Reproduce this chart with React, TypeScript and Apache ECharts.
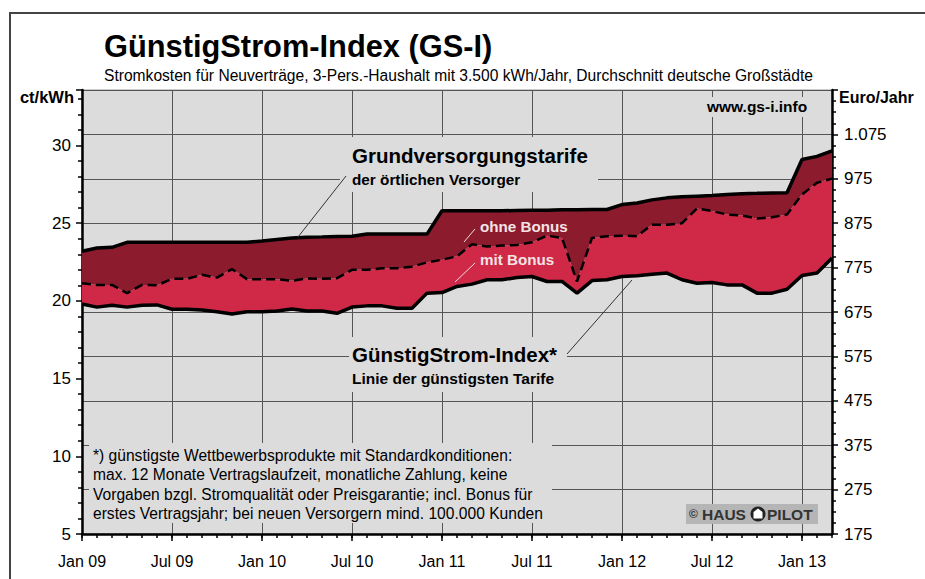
import React, { useEffect, useRef } from 'react';
import * as echarts from 'echarts';

// Month index 0 = Jan 09 ... 50 = Mar 13
const xTickLabels = ['Jan 09', 'Jul 09', 'Jan 10', 'Jul 10', 'Jan 11', 'Jul 11', 'Jan 12', 'Jul 12', 'Jan 13'];
const leftTickLabels = ['5', '10', '15', '20', '25', '30'];
const rightTickLabels = ['175', '275', '375', '475', '575', '675', '775', '875', '975', '1.075'];

// ct/kWh, Grundversorgungstarife (top line)
const grundversorgung = [
  23.2, 23.4, 23.45, 23.77, 23.77, 23.77, 23.77, 23.77, 23.77, 23.77, 23.77, 23.77,
  23.85, 23.95, 24.05, 24.1, 24.12, 24.15, 24.16, 24.3, 24.3, 24.3, 24.3, 24.3,
  25.8, 25.8, 25.8, 25.8, 25.8, 25.82, 25.84, 25.84, 25.86, 25.86, 25.88, 25.88,
  26.2, 26.3, 26.5, 26.63, 26.7, 26.74, 26.78, 26.85, 26.9, 26.92, 26.95, 26.96,
  29.1, 29.3, 29.65,
];
// ct/kWh, günstigste Tarife ohne Bonus (dashed)
const ohneBonus = [
  21.14, 21.03, 21.03, 20.5, 21.03, 21.0, 21.42, 21.42, 21.68, 21.5, 22.05, 21.4,
  21.4, 21.4, 21.3, 21.44, 21.42, 21.46, 22.0, 22.0, 22.1, 22.1, 22.2, 22.48,
  22.65, 22.87, 23.65, 23.5, 23.56, 23.6, 23.77, 24.2, 24.05, 21.25, 24.05, 24.16,
  24.2, 24.16, 24.9, 24.9, 25.0, 25.95, 25.78, 25.56, 25.5, 25.3, 25.38, 25.56,
  26.85, 27.6, 27.87,
];
// ct/kWh, GünstigStrom-Index mit Bonus (bottom line)
const gsIndex = [
  19.8, 19.6, 19.72, 19.6, 19.72, 19.74, 19.46, 19.46, 19.42, 19.3, 19.16, 19.3,
  19.3, 19.35, 19.48, 19.35, 19.35, 19.2, 19.6, 19.68, 19.68, 19.53, 19.53, 20.5,
  20.54, 20.93, 21.08, 21.36, 21.36, 21.5, 21.57, 21.25, 21.25, 20.5, 21.31, 21.36,
  21.57, 21.62, 21.72, 21.79, 21.36, 21.14, 21.18, 21.03, 21.03, 20.5, 20.5, 20.75,
  21.64, 21.79, 22.76,
];

const FONT = "'Liberation Sans', Arial, Helvetica, sans-serif";
const DARK_RED = '#8c1b2e';
const RED = '#cf2947';
const PLOT_BG = '#dcdcdc';

function txt(text: string, x: number, y: number, size: number, opts: any = {}) {
  return {
    type: 'text',
    x,
    y,
    silent: true,
    z: 20,
    style: {
      text,
      font: `${opts.bold ? 'bold ' : ''}${size}px ${FONT}`,
      fill: opts.fill || '#000',
      align: opts.align || 'left',
      verticalAlign: 'middle',
      textAlign: opts.align || 'left',
      textVerticalAlign: 'middle',
    },
  };
}

function box(x: number, y: number, w: number, h: number, fill: string) {
  return { type: 'rect', silent: true, z: 10, shape: { x, y, width: w, height: h }, style: { fill } };
}

function seg(x1: number, y1: number, x2: number, y2: number, stroke: string, w = 1) {
  return { type: 'line', silent: true, z: 15, shape: { x1, y1, x2, y2 }, style: { stroke, lineWidth: w } };
}

export default function App() {
  const ref = useRef<HTMLDivElement>(null);
  useEffect(() => {
    const chart = echarts.init(ref.current!, null, { renderer: 'svg' });
    const months = grundversorgung.map((_, i) => String(i));
    const mid = ohneBonus.map((v, i) => +(v - gsIndex[i]).toFixed(3));
    const upper = grundversorgung.map((v, i) => +(v - ohneBonus[i]).toFixed(3));

    const option: any = {
      animation: false,
      backgroundColor: '#fff',
      textStyle: { fontFamily: FONT },
      grid: {
        left: 82, right: 93, top: 90, bottom: 45,
        show: true, backgroundColor: PLOT_BG, borderColor: '#999', borderWidth: 1,
      },
      xAxis: [
        {
          type: 'category', data: months, boundaryGap: false, position: 'bottom',
          axisLine: { show: false },
          axisTick: { show: true, interval: 0, length: 4, lineStyle: { color: '#000', width: 1.5 } },
          axisLabel: { show: false },
          splitLine: { show: false },
        },
        {
          type: 'value', min: 0, max: 50, interval: 6, position: 'bottom',
          axisLine: { show: true, onZero: false, lineStyle: { color: '#000', width: 2.5 } },
          axisTick: { show: true, length: 7, lineStyle: { color: '#000', width: 1.5 } },
          splitLine: { show: true, lineStyle: { color: '#555', width: 1 } },
          axisLabel: {
            margin: 19, fontSize: 16, color: '#000', fontFamily: FONT,
            showMaxLabel: false,
            formatter: (v: number) => (v % 6 === 0 ? xTickLabels[v / 6] || '' : ''),
          },
        },
      ],
      yAxis: [
        {
          type: 'value', min: 5, max: 1175 / 35, interval: 5, position: 'left',
          axisLine: { show: true, onZero: false, lineStyle: { color: '#000', width: 2.5 } },
          axisTick: { show: true, length: 6, lineStyle: { color: '#000', width: 1.5 } },
          minorTick: { show: true, splitNumber: 5, length: 4, lineStyle: { color: '#000', width: 1.5 } },
          splitLine: { show: false },
          axisLabel: {
            margin: 11, fontSize: 17, color: '#000', fontFamily: FONT,
            formatter: (v: number) => {
              const k = Math.round((v - 5) / 5);
              return Math.abs(v - (5 + 5 * k)) < 1e-6 ? leftTickLabels[k] || '' : '';
            },
          },
        },
        {
          type: 'value', min: 0, max: 1000, interval: 100, position: 'right',
          axisLine: { show: true, onZero: false, lineStyle: { color: '#000', width: 2.5 } },
          axisTick: { show: true, length: 6, lineStyle: { color: '#000', width: 1.5 } },
          minorTick: { show: true, splitNumber: 4, length: 4, lineStyle: { color: '#000', width: 1.5 } },
          splitLine: { show: true, lineStyle: { color: '#555', width: 1 } },
          axisLabel: {
            margin: 12, fontSize: 17, color: '#000', fontFamily: FONT,
            formatter: (v: number) => rightTickLabels[Math.round(v / 100)] || '',
          },
        },
      ],
      series: [
        {
          name: 'base', type: 'line', stack: 'gs', data: gsIndex, symbol: 'none',
          lineStyle: { width: 0, opacity: 0 }, silent: true, z: 2,
        },
        {
          name: 'mit Bonus', type: 'line', stack: 'gs', data: mid, symbol: 'none',
          lineStyle: { width: 0, opacity: 0 }, areaStyle: { color: RED, opacity: 1 }, silent: true, z: 2,
        },
        {
          name: 'ohne Bonus area', type: 'line', stack: 'gs', data: upper, symbol: 'none',
          lineStyle: { width: 0, opacity: 0 }, areaStyle: { color: DARK_RED, opacity: 1 }, silent: true, z: 2,
        },
        {
          name: 'Grundversorgungstarife', type: 'line', data: grundversorgung,
          symbol: 'none', lineStyle: { color: '#000', width: 3.5 }, z: 4,
        },
        {
          name: 'ohne Bonus', type: 'line', data: ohneBonus,
          symbol: 'none', lineStyle: { color: '#000', width: 2.5, type: [9, 5] }, z: 4,
        },
        {
          name: 'GünstigStrom-Index', type: 'line', data: gsIndex,
          symbol: 'none', lineStyle: { color: '#000', width: 3.5 }, z: 4,
        },
      ],
      graphic: [
        { type: 'rect', silent: true, z: 0, shape: { x: 10, y: 13, width: 1000, height: 700 }, style: { fill: 'none', stroke: '#444', lineWidth: 2 } },
        txt('GünstigStrom-Index (GS-I)', 104, 46, 30.8, { bold: true }),
        txt('Stromkosten für Neuverträge, 3-Pers.-Haushalt mit 3.500 kWh/Jahr, Durchschnitt deutsche Großstädte', 104, 75, 15.6),
        txt('ct/kWh', 74, 97, 16.5, { bold: true, align: 'right' }),
        txt('Euro/Jahr', 839, 97, 16, { bold: true }),
        box(704, 97, 108, 20, PLOT_BG),
        txt('www.gs-i.info', 707, 106, 15.5, { bold: true }),
        box(340, 137, 258, 55, PLOT_BG),
        seg(298, 237, 346, 176, '#333', 1),
        txt('Grundversorgungstarife', 352, 155, 20.5, { bold: true }),
        txt('der örtlichen Versorger', 352, 179, 15.3, { bold: true }),
        seg(464, 242, 475, 229, '#f0dde0', 1),
        txt('ohne Bonus', 480, 226, 15.2, { bold: true, fill: '#f3e3e6' }),
        seg(455, 282, 475, 263, '#f0dde0', 1),
        txt('mit Bonus', 480, 259, 15.2, { bold: true, fill: '#f3e3e6' }),
        box(349, 337, 218, 55, PLOT_BG),
        seg(567, 354, 632, 280, '#333', 1),
        txt('GünstigStrom-Index*', 352, 354, 20.5, { bold: true }),
        txt('Linie der günstigsten Tarife', 352, 378, 15.5, { bold: true }),
        box(89, 443, 463, 80, PLOT_BG),
        txt('*) günstigste Wettbewerbsprodukte mit Standardkonditionen:', 93, 455, 15.6),
        txt('max. 12 Monate Vertragslaufzeit, monatliche Zahlung, keine', 93, 474.5, 15.6),
        txt('Vorgaben bzgl. Stromqualität oder Preisgarantie; incl. Bonus für', 93, 494, 15.6),
        txt('erstes Vertragsjahr; bei neuen Versorgern mind. 100.000 Kunden', 93, 513.5, 15.6),
        box(686, 504, 132, 20, '#b5b5b5'),
        txt('©', 689, 514, 12, { bold: true, fill: '#333' }),
        txt('HAUS', 702, 514.5, 15.5, { bold: true, fill: '#333' }),
        { type: 'circle', silent: true, z: 20, shape: { cx: 758, cy: 514, r: 7.5 }, style: { fill: '#222' } },
        { type: 'polygon', silent: true, z: 21, shape: { points: [[758, 508.5], [762.5, 512], [762.5, 518.5], [753.5, 518.5], [753.5, 512]] }, style: { fill: '#fff' } },
        txt('PILOT', 767, 514.5, 15.5, { bold: true, fill: '#333' }),
      ],
    };
    chart.setOption(option);
    return () => chart.dispose();
  }, []);
  return <div ref={ref} style={{ position: 'absolute', left: 0, top: 0, width: 925, height: 579, background: '#fff' }} />;
}
